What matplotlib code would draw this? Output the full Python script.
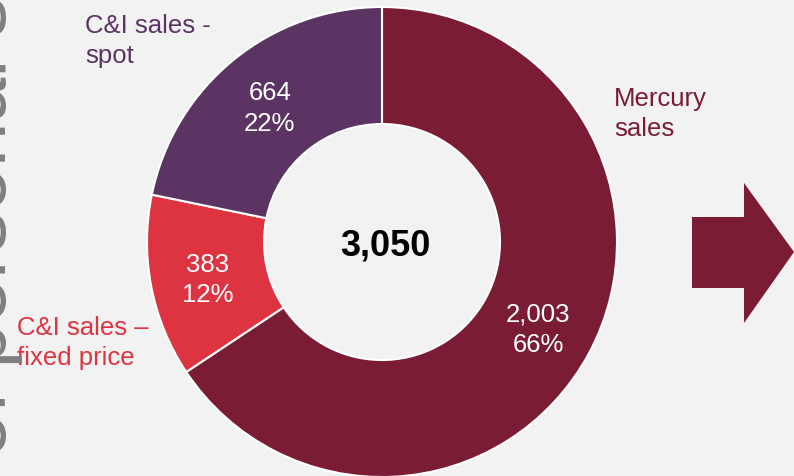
import matplotlib
matplotlib.use("Agg")
import matplotlib.pyplot as plt
import matplotlib.patches as mpatches
import numpy as np

plt.rcParams['font.family'] = ['Liberation Sans', 'DejaVu Sans']

# ---- data ----
categories = ["Mercury\nsales", "C&I sales –\nfixed price", "C&I sales -\nspot"]
values = [2003, 383, 664]
value_labels = ["2,003", "383", "664"]
pct_labels = ["66%", "12%", "22%"]
total_label = "3,050"
side_text = "of personal s"

colors = ["#7b1c35", "#de3441", "#5b3463"]
bg = "#f2f2f2"

W, H = 794, 477
fig = plt.figure(figsize=(W / 100, H / 100), dpi=100, facecolor=bg)
ax = fig.add_axes([0, 0, 1, 1])
ax.set_facecolor(bg)

cx, cy = 382, H - 243
R = 235
ring = 117

wedges, _ = ax.pie(values, colors=colors, startangle=90, counterclock=False,
                   center=(cx, cy), radius=R, frame=True,
                   wedgeprops=dict(width=ring, edgecolor="white", linewidth=1.5))

ax.set_xlim(0, W)
ax.set_ylim(0, H)
ax.set_aspect("equal")
ax.axis("off")

# value labels inside the ring
for w, v, p in zip(wedges, value_labels, pct_labels):
    ang = np.deg2rad((w.theta1 + w.theta2) / 2)
    r = 0.755 * R
    ax.text(cx + r * np.cos(ang), cy + r * np.sin(ang) - 3, f"{v}\n{p}",
            ha="center", va="center", color="white", fontsize=18.5,
            linespacing=1.33)

# total in the centre
ax.text(cx + 3, H - 246, total_label, ha="center", va="center",
        fontsize=26, fontweight="bold", color="black")

# category labels
label_pos = [(614, H - 114), (17, H - 343), (85, H - 41)]
for (x, y), c, col in zip(label_pos, categories, colors):
    ax.text(x, y, c, ha="left", va="center", color=col, fontsize=18.5,
            linespacing=1.27)

# arrow on the right
arrow_pts = np.array([(692, 218), (744, 218), (744, 184), (794, 253),
                      (744, 324), (744, 289), (692, 289)], dtype=float)
arrow_pts[:, 1] = H - arrow_pts[:, 1]
ax.add_patch(mpatches.Polygon(arrow_pts, closed=True, facecolor=colors[0],
                              edgecolor="none"))

# cut-off vertical text at the left edge
ax.text(6, H - 457, side_text, rotation=90, rotation_mode="anchor",
        ha="left", va="baseline", fontsize=58, color="#7f7f7f")

fig.savefig("out.png", dpi=100, facecolor=bg)
